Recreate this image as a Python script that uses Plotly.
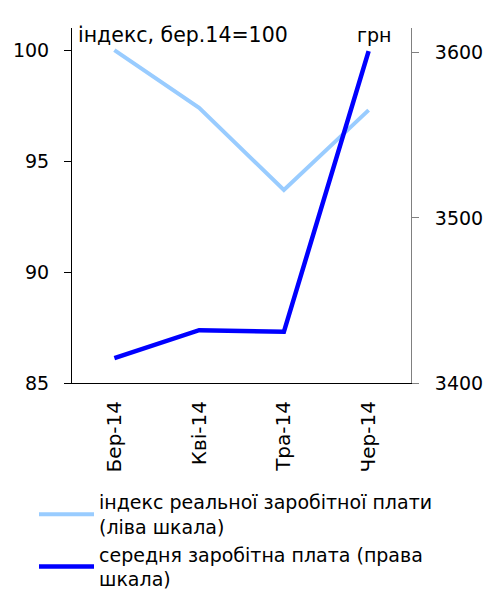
import plotly.graph_objects as go

categories = ["Бер-14", "Кві-14", "Тра-14", "Чер-14"]
real_wage_index = [100.0, 97.4, 93.7, 97.3]
avg_wage = [3415, 3432, 3431, 3601]

name_index = "індекс реальної заробітної плати<br>(ліва шкала)"
name_wage = "середня заробітна плата (права<br>шкала)"

FONT = "DejaVu Sans, Verdana, sans-serif"
W, H = 488, 591
L, R, T, B = 72, 77, 28, 208
PW, PH = W - L - R, H - T - B

fig = go.Figure()
fig.add_trace(go.Scatter(
    x=categories, y=real_wage_index, name=name_index, mode="lines",
    line=dict(color="#99CCFF", width=4), yaxis="y"))
fig.add_trace(go.Scatter(
    x=categories, y=avg_wage, name=name_wage, mode="lines",
    line=dict(color="#0000FF", width=4.5), yaxis="y2"))

def px_x(p):
    return (p - L) / PW

def px_y(p):
    return (H - B - p) / PH

fig.update_layout(
    width=W, height=H,
    margin=dict(l=L, r=R, t=T, b=B, autoexpand=False),
    paper_bgcolor="white", plot_bgcolor="white",
    font=dict(family=FONT, size=19, color="black"),
    xaxis=dict(type="category", range=[-0.5, 3.5], showgrid=False,
               showline=True, linecolor="black", linewidth=1,
               ticks="", tickangle=-90, ticklabelstandoff=9,
               tickfont=dict(size=20), zeroline=False, automargin=False),
    yaxis=dict(range=[85, 101], tickvals=[85, 90, 95, 100], showgrid=False,
               showline=True, linecolor="black", linewidth=1,
               ticks="outside", ticklen=7, tickcolor="black",
               ticklabelstandoff=11, zeroline=False, automargin=False),
    yaxis2=dict(range=[3400, 3615], tickvals=[3400, 3500, 3600],
                overlaying="y", side="right", showgrid=False,
                showline=True, linecolor="#808080", linewidth=1,
                ticks="outside", ticklen=7, tickcolor="#808080",
                ticklabelstandoff=12, zeroline=False, automargin=False),
    showlegend=True,
    legend=dict(x=px_x(34), y=px_y(483), xanchor="left", yanchor="top",
                orientation="v", font=dict(size=19, family=FONT),
                tracegroupgap=0, itemwidth=55, bgcolor="rgba(0,0,0,0)"),
    annotations=[
        dict(text="індекс, бер.14=100", xref="paper", yref="paper",
             x=px_x(76), y=px_y(35), xanchor="left", yanchor="middle",
             showarrow=False, font=dict(size=20.5)),
        dict(text="грн", xref="paper", yref="paper",
             x=px_x(393), y=px_y(35), xanchor="right", yanchor="middle",
             showarrow=False, font=dict(size=19)),
    ],
)

fig.write_html(
    "out.html",
    config={"displayModeBar": False},
    post_script="document.body.style.margin='0';document.body.style.overflow='hidden';",
)
